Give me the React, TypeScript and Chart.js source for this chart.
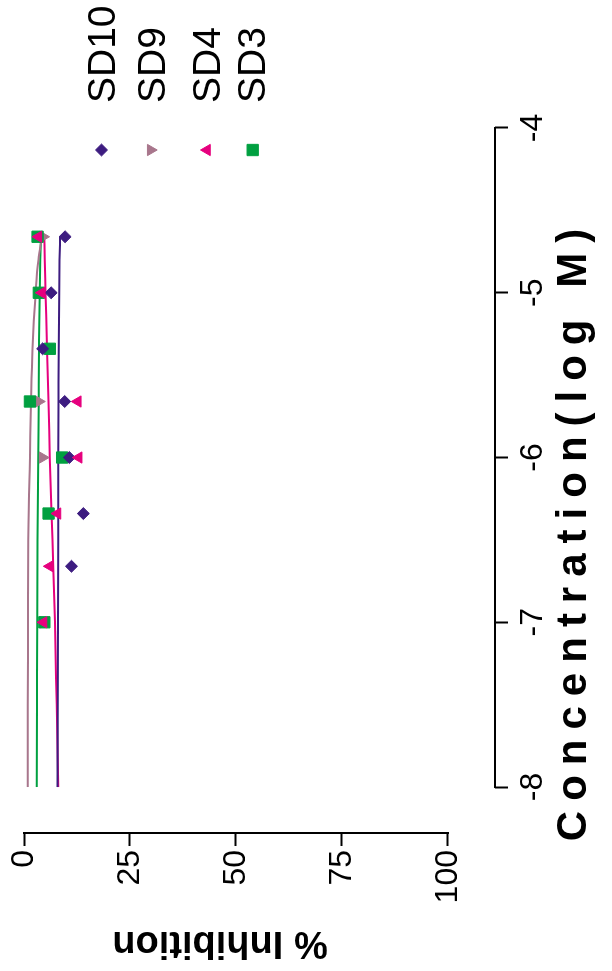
import React, { useEffect, useRef } from 'react';
import { Chart, registerables } from 'chart.js';
import { drawPoint } from 'chart.js/helpers';

Chart.register(...registerables);

// ---- data (log M concentrations, % inhibition) ----
const concentrations = [-7, -6.66, -6.34, -6, -5.66, -5.34, -5, -4.66];
const sd10Values = [null, 11.2, 14.0, 10.7, 9.6, 4.4, 6.4, 9.7];
const sd9Values = [4.6, null, null, 4.4, 3.5, null, null, 4.5];
const sd4Values = [4.6, 6.1, 7.9, 12.9, 12.7, null, 4.2, 3.4];
const sd3Values = [4.8, null, 5.8, 9.0, 1.4, 6.1, 3.5, 3.2];

// fitted curves
const curveConc = [-8, -7.5, -7, -6.5, -6, -5.66, -5.34, -5, -4.8, -4.66];
const sd10Fit = [7.9, 7.95, 8.0, 8.05, 8.1, 8.15, 8.2, 8.3, 8.4, 8.5];
const sd9Fit = [0.9, 0.9, 0.95, 1.0, 1.4, 1.65, 2.0, 2.75, 3.4, 4.2];
const sd4Fit = [8.1, 7.7, 7.3, 6.7, 6.1, 5.8, 5.4, 5.1, 4.9, 4.8];
const sd3Fit = [3.0, 3.05, 3.1, 3.2, 3.35, 3.45, 3.55, 3.7, 3.85, 4.0];

const seriesNames = ['SD10', 'SD9', 'SD4', 'SD3'];
const xTickValues = [-8, -7, -6, -5, -4];
const yTickValues = [0, 25, 50, 75, 100];
const xAxisTitle = 'Concentration(log M)';
const yAxisTitle = '% Inhibition';

const colors = ['#3D1C80', '#A8768C', '#E6007E', '#00A040'];
const FONT = "'Liberation Sans', Arial, sans-serif";

const W = 971;
const H = 612;

function pts(xs: number[], ys: (number | null)[]) {
  return xs.map((x, i) => ({ x, y: ys[i] as any }));
}

const pointStyles: any[] = [
  { style: 'rectRot', radius: 6, rotation: 0 },
  { style: 'triangle', radius: 6.5, rotation: 180 },
  { style: 'triangle', radius: 6.5, rotation: 0 },
  { style: 'rect', radius: 8, rotation: 0 },
];

const extrasPlugin = {
  id: 'extras',
  afterDraw(chart: any) {
    const { ctx, chartArea } = chart;
    const xs = chart.scales.x;
    const ys = chart.scales.y;
    ctx.save();
    ctx.strokeStyle = '#000';
    ctx.lineWidth = 2;
    ctx.lineCap = 'butt';
    // separated axis lines
    ctx.beginPath();
    ctx.moveTo(xs.getPixelForValue(xTickValues[0]) - 1, chartArea.bottom);
    ctx.lineTo(xs.getPixelForValue(xTickValues[xTickValues.length - 1]) + 1, chartArea.bottom);
    ctx.stroke();
    ctx.beginPath();
    ctx.moveTo(chartArea.left, ys.getPixelForValue(yTickValues[0]) - 1);
    ctx.lineTo(chartArea.left, ys.getPixelForValue(yTickValues[yTickValues.length - 1]) + 1);
    ctx.stroke();

    // axis titles
    ctx.fillStyle = '#000';
    ctx.textAlign = 'center';
    ctx.textBaseline = 'middle';
    ctx.save();
    ctx.font = `bold 42px ${FONT}`;
    try {
      (ctx as any).letterSpacing = '10px';
    } catch (e) {}
    ctx.fillText(xAxisTitle, 441, 574);
    ctx.restore();
    ctx.save();
    ctx.translate(29, 220);
    ctx.rotate(-Math.PI / 2);
    ctx.font = `bold 38px ${FONT}`;
    ctx.fillText(yAxisTitle, 0, 0);
    ctx.restore();

    // legend
    const legendY = [101.5, 150.7, 207, 252.7];
    const baseY = [115, 165, 220, 265];
    ctx.font = `39px ${FONT}`;
    ctx.textAlign = 'left';
    ctx.textBaseline = 'alphabetic';
    seriesNames.forEach((name, i) => {
      const ps = pointStyles[i];
      ctx.fillStyle = colors[i];
      ctx.strokeStyle = colors[i];
      ctx.lineWidth = 1;
      drawPoint(ctx, { pointStyle: ps.style, radius: ps.radius, rotation: ps.rotation, borderWidth: 1 }, 821, legendY[i]);
      ctx.fillStyle = '#000';
      ctx.fillText(name, 868, baseY[i]);
    });
    ctx.restore();
  },
};

export default function App() {
  const ref = useRef<HTMLCanvasElement | null>(null);
  useEffect(() => {
    if (!ref.current) return;
    const values = [sd10Values, sd9Values, sd4Values, sd3Values];
    const fits = [sd10Fit, sd9Fit, sd4Fit, sd3Fit];
    const drawOrder = [1, 3, 0, 2];
    const datasets: any[] = [];
    seriesNames.forEach((name, i) => {
      datasets.push({
        label: name,
        data: pts(concentrations, values[i]),
        backgroundColor: colors[i],
        borderColor: colors[i],
        borderWidth: 1,
        pointStyle: pointStyles[i].style,
        pointRadius: pointStyles[i].radius,
        pointRotation: pointStyles[i].rotation,
        showLine: false,
        order: drawOrder[i],
        clip: false,
      });
    });
    seriesNames.forEach((name, i) => {
      datasets.push({
        label: name + ' fit',
        data: pts(curveConc, fits[i]),
        borderColor: colors[i],
        backgroundColor: colors[i],
        borderWidth: 2,
        pointRadius: 0,
        showLine: true,
        cubicInterpolationMode: 'monotone',
        order: 10 + i,
        clip: false,
      });
    });

    const tickCommon = {
      color: '#000',
      font: { family: FONT, size: 32 },
      autoSkip: false,
      maxRotation: 0,
      minRotation: 0,
    };
    const gridCommon = {
      drawOnChartArea: false,
      drawTicks: true,
      tickLength: 13,
      tickWidth: 2,
      tickColor: '#000',
    };

    const chart = new Chart(ref.current, {
      type: 'scatter',
      data: { datasets },
      plugins: [extrasPlugin],
      options: {
        responsive: false,
        animation: false,
        devicePixelRatio: 1,
        layout: { padding: { left: 0, top: 24, right: 128, bottom: 0 } },
        plugins: { legend: { display: false }, tooltip: { enabled: false } },
        scales: {
          x: {
            type: 'linear',
            position: 'bottom',
            min: -8.279,
            max: -4,
            afterBuildTicks: (s: any) => {
              s.ticks = xTickValues.map((v) => ({ value: v }));
            },
            afterFit: (s: any) => {
              s.height = 117;
            },
            ticks: { ...tickCommon, padding: 6, callback: (v: any) => String(v) },
            grid: gridCommon,
            border: { display: false },
          },
          y: {
            type: 'linear',
            position: 'left',
            reverse: true,
            min: 0,
            max: 111.1,
            afterBuildTicks: (s: any) => {
              s.ticks = yTickValues.map((v) => ({ value: v }));
            },
            afterFit: (s: any) => {
              s.width = 138;
            },
            ticks: { ...tickCommon, padding: 4, callback: (v: any) => String(v) },
            grid: gridCommon,
            border: { display: false },
          },
        },
      } as any,
    });
    return () => chart.destroy();
  }, []);

  return (
    <div
      style={{
        position: 'fixed',
        left: 0,
        top: 0,
        width: W,
        height: H,
        transformOrigin: '0 0',
        transform: `translateY(${W}px) rotate(-90deg)`,
        background: '#fff',
      }}
    >
      <canvas ref={ref} width={W} height={H} style={{ display: 'block' }} />
    </div>
  );
}
